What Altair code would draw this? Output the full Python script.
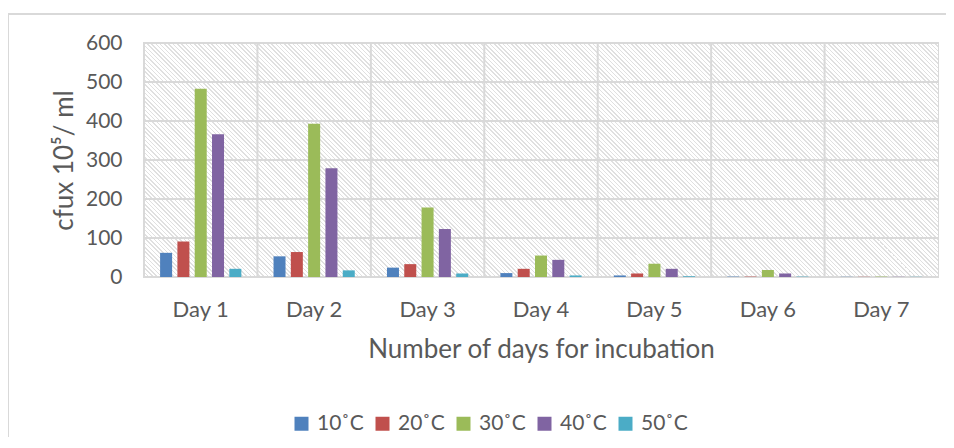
import altair as alt
import pandas as pd

days = ["Day 1", "Day 2", "Day 3", "Day 4", "Day 5", "Day 6", "Day 7"]
temps = ["10˚C", "20˚C", "30˚C", "40˚C", "50˚C"]
t10 = [62, 53, 24, 10, 4, 1, 0.5]
t20 = [91, 64, 33, 21, 9, 1, 0.5]
t30 = [483, 393, 178, 55, 34, 18, 1]
t40 = [366, 279, 123, 44, 21, 9, 0.5]
t50 = [21, 17, 9, 4, 2, 1, 0.5]
y_ticks = [0, 100, 200, 300, 400, 500, 600]
colors = ["#4f81bd", "#c0504d", "#9bbb59", "#8064a2", "#4bacc6"]

series = [t10, t20, t30, t40, t50]
rows = []
for t, vals in zip(temps, series):
    for d, v in zip(days, vals):
        rows.append({"day": d, "temp": t, "value": v})
df = pd.DataFrame(rows)

W, H = 794, 234
FONT = "Lato"
TXT = "#595959"
GRID = "#d9d9d9"

# diagonal hatch background as a striped gradient
n_stripes = 240
stops = []
for k in range(n_stripes):
    a = k / n_stripes
    b = (k + 0.35) / n_stripes
    c = (k + 1) / n_stripes
    stops += [
        {"offset": a, "color": "#e0e0e0"},
        {"offset": b, "color": "#e0e0e0"},
        {"offset": b, "color": "#ffffff"},
        {"offset": c, "color": "#ffffff"},
    ]
ratio = H / W
d = (1.0, -ratio)
s = (1 + ratio) / (1 + ratio * ratio)
grad = {
    "gradient": "linear",
    "x1": 0, "y1": 1,
    "x2": s * d[0], "y2": 1 + s * d[1],
    "stops": stops,
}

x_axis = alt.Axis(labelAngle=0, ticks=False, domain=False, grid=False,
                  bandPosition=0.5, labelAlign="center",
                  labelBaseline="alphabetic", labelPadding=39,
                  titleX=W / 2, titleY=80, titleAlign="center",
                  titleBaseline="alphabetic", titleAnchor="middle")
y_axis = alt.Axis(values=y_ticks, ticks=False, domain=False, grid=False,
                  labelOverlap=False, labelPadding=22,
                  titleAngle=270, titleX=-72, titleY=H / 2,
                  titleAlign="center", titleBaseline="alphabetic")
x_title = "Number of days for incubation"
y_title = "cfux 10⁵/ ml"
y_scale = alt.Scale(domain=[0, 600], nice=False)
x_scale = alt.Scale(paddingInner=0, paddingOuter=0)

bg = alt.Chart(pd.DataFrame({"k": [0]})).mark_rect(fill=grad, stroke=None).encode(
    x=alt.value(0), x2=alt.value(W), y=alt.value(0), y2=alt.value(H)
)

hgrid = alt.Chart(pd.DataFrame({"v": y_ticks})).mark_rule(
    color=GRID, strokeWidth=2
).encode(y=alt.Y("v:Q", title=y_title, scale=y_scale, axis=y_axis))

vgrid = alt.Chart(pd.DataFrame({"day": days})).mark_rule(
    color=GRID, strokeWidth=2
).encode(x=alt.X("day:N", sort=days, bandPosition=0, title=x_title,
                 scale=x_scale, axis=x_axis))

bars = alt.Chart(df).mark_bar().encode(
    x=alt.X("day:N", sort=days, title=x_title, scale=x_scale, axis=x_axis),
    xOffset=alt.XOffset(
        "temp:N", sort=temps,
        scale=alt.Scale(paddingInner=0.306, paddingOuter=0.93),
    ),
    y=alt.Y("value:Q", title=y_title, scale=y_scale, axis=y_axis),
    color=alt.Color(
        "temp:N", sort=temps,
        scale=alt.Scale(domain=temps, range=colors),
        legend=alt.Legend(
            title=None, orient="none", direction="horizontal", columns=5,
            legendX=147, legendY=370, symbolType="square", symbolSize=196,
            symbolStrokeWidth=0, columnPadding=8, labelOffset=5,
        ),
    ),
)

border = alt.Chart(pd.DataFrame({"k": [0]})).mark_rect(
    fill=None, stroke=GRID, strokeWidth=2
).encode(
    x=alt.value(-136), x2=alt.value(W + 200), y=alt.value(-29), y2=alt.value(H + 300)
)

chart = alt.layer(bg, hgrid, vgrid, bars, border).properties(
    width=W, height=H,
    autosize=alt.AutoSizeParams(type="none"),
    padding={"left": 136, "top": 35, "right": 8, "bottom": 160},
).configure_view(
    stroke=GRID, strokeWidth=2
).configure_axis(
    labelFont=FONT, titleFont=FONT, labelColor=TXT, titleColor=TXT,
    titleFontWeight="normal", labelOverlap=False,
).configure_axisX(
    titleFontSize=26, labelFontSize=22,
).configure_axisY(
    titleFontSize=26, labelFontSize=21,
).configure_legend(
    labelFont=FONT, labelFontSize=21, labelColor=TXT,
)

chart.save("out.html", embed_options={"renderer": "svg", "actions": False})
